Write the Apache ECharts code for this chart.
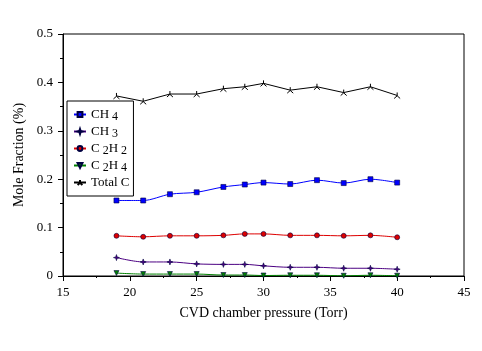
<!doctype html>
<html lang="en">
<head>
<meta charset="utf-8">
<title>Mole fraction vs CVD chamber pressure</title>
<script src="https://cdn.jsdelivr.net/npm/echarts@6/dist/echarts.min.js"></script>
<style>
    html, body { margin: 0; padding: 0; background: #fff; }
    #main { width: 482px; height: 351px; }
</style>
</head>
<body>
<div id="main"></div>
<script>
    var myChart = echarts.init(document.getElementById('main'));

    // x values (Torr)
    var pressure = [19, 21, 23, 25, 27, 28.6, 30, 32, 34, 36, 38, 40];
    // mole fractions (%)
    var ch4 = [0.156, 0.156, 0.169, 0.173, 0.184, 0.189, 0.193, 0.190, 0.198, 0.192, 0.200, 0.193];
    var ch3 = [0.038, 0.029, 0.029, 0.025, 0.024, 0.024, 0.021, 0.018, 0.018, 0.016, 0.016, 0.014];
    var c2h2 = [0.083, 0.081, 0.083, 0.083, 0.084, 0.087, 0.087, 0.084, 0.084, 0.083, 0.084, 0.080];
    var c2h4 = [0.006, 0.004, 0.004, 0.004, 0.002, 0.002, 0.001, 0.0015, 0.0015, 0.0005, 0.0015, 0.0005];
    var totalC = [0.372, 0.361, 0.376, 0.376, 0.387, 0.391, 0.398, 0.384, 0.391, 0.379, 0.391, 0.373];

    var seriesNames = ['CH4', 'CH3', 'C2H2', 'C2H4', 'Total C'];
    // legend labels with subscripts (rich text)
    var legendText = {
        'CH4': '{m|CH}{s|4}',
        'CH3': '{m|CH}{s|3}',
        'C2H2': '{m|C}{s|2}{m|H}{s|2}',
        'C2H4': '{m|C}{s|2}{m|H}{s|4}',
        'Total C': '{m|Total C}'
    };

    var font = 'Liberation Serif';

    var pairs = function (ys) {
        var res = [];
        for (var i = 0; i < pressure.length; i++) {
            res.push([pressure[i], ys[i]]);
        }
        return res;
    };

    var mkSeries = function (name, ys, color, symbol, size, extra) {
        var s = {
            name: name,
            type: 'line',
            data: pairs(ys),
            symbol: symbol,
            symbolSize: size,
            smooth: 0.3,
            lineStyle: { color: color, width: 1 },
            itemStyle: { color: color, borderColor: '#000040', borderWidth: 0.6 },
            animation: false
        };
        return Object.assign(s, extra || {});
    };

    var option = {
        backgroundColor: '#fff',
        textStyle: { fontFamily: font },
        grid: {
            left: 63, right: 18, top: 34, bottom: 75,
            show: true, borderColor: '#000', borderWidth: 1
        },
        legend: {
            left: 67, top: 101,
            orient: 'vertical',
            padding: [5, 4, 5, 6],
            itemGap: 0,
            itemWidth: 12, itemHeight: 6,
            backgroundColor: '#fff',
            borderColor: '#000', borderWidth: 1,
            data: seriesNames,
            formatter: function (n) { return legendText[n]; },
            textStyle: {
                fontFamily: font, fontSize: 13, color: '#000', lineHeight: 17,
                rich: {
                    m: { fontFamily: font, fontSize: 13, color: '#000', lineHeight: 17 },
                    s: { fontFamily: font, fontSize: 12, color: '#000', lineHeight: 7,
                         verticalAlign: 'bottom', padding: [0, 0, 0, 3] }
                }
            }
        },
        xAxis: {
            type: 'value', min: 15, max: 45, interval: 5,
            name: 'CVD chamber pressure (Torr)',
            nameLocation: 'middle', nameGap: 30,
            nameTextStyle: { fontFamily: font, fontSize: 14, color: '#000' },
            axisLine: { lineStyle: { color: '#000', width: 1 } },
            axisTick: { inside: false, length: 5, lineStyle: { color: '#000' } },
            minorTick: { show: true, splitNumber: 2, length: 2, lineStyle: { color: '#000' } },
            axisLabel: { fontFamily: font, fontSize: 13, color: '#000', margin: 10 },
            splitLine: { show: false }
        },
        yAxis: {
            type: 'value', min: 0, max: 0.5, interval: 0.1,
            name: 'Mole Fraction (%)',
            nameLocation: 'middle', nameGap: 33,
            nameTextStyle: { fontFamily: font, fontSize: 14, color: '#000' },
            axisLine: { show: true, lineStyle: { color: '#000', width: 1 } },
            axisTick: { show: true, inside: false, length: 5, lineStyle: { color: '#000' } },
            minorTick: { show: true, splitNumber: 2, length: 3, lineStyle: { color: '#000' } },
            axisLabel: { fontFamily: font, fontSize: 13, color: '#000', margin: 10 },
            splitLine: { show: false }
        },
        series: [
            mkSeries('CH4', ch4, '#0000ff', 'rect', 5),
            mkSeries('CH3', ch3, '#4b0082', 'path://M5,0L6.2,3.8L10,5L6.2,6.2L5,10L3.8,6.2L0,5L3.8,3.8Z', 6),
            mkSeries('C2H2', c2h2, '#dd0000', 'circle', 5),
            mkSeries('C2H4', c2h4, '#008000', 'triangle', 5, { symbolRotate: 180 }),
            mkSeries('Total C', totalC, '#000000', 'path://M5,0L5,5M5,5L0,9M5,5L10,9', 6, {
                smooth: false,
                itemStyle: { color: 'none', borderColor: '#000', borderWidth: 1 }
            })
        ]
    };

    myChart.setOption(option);
</script>
</body>
</html>
